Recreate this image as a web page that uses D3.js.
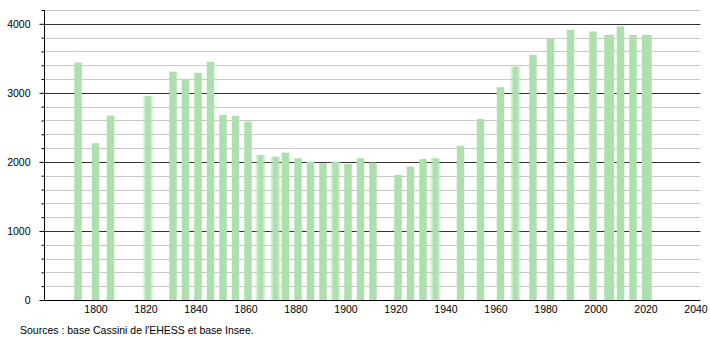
<!DOCTYPE html>
<html>
<head>
<meta charset="utf-8">
<script src="https://cdn.jsdelivr.net/npm/d3@7"></script>
<style>
  body { margin: 0; background: #fff; }
  text { font-family: "Liberation Sans", Arial, sans-serif; }
</style>
</head>
<body>
<div id="chart"></div>
<script>
// census years and population
const years = [1793, 1800, 1806, 1821, 1831, 1836, 1841, 1846, 1851, 1856, 1861, 1866, 1872, 1876,
    1881, 1886, 1891, 1896, 1901, 1906, 1911, 1921, 1926, 1931, 1936, 1946, 1954, 1962, 1968,
    1975, 1982, 1990, 1999, 2005, 2006, 2010, 2015, 2020, 2021];
const population = [3439, 2270, 2671, 2957, 3309, 3203, 3290, 3449, 2681, 2667, 2584, 2101, 2077, 2135,
    2053, 2004, 1981, 2004, 1971, 2053, 1990, 1812, 1932, 2043, 2053, 2232, 2623, 3082, 3381,
    3551, 3787, 3913, 3888, 3841, 3841, 3961, 3841, 3840, 3840];
// years drawn with blurred edges
const softYears = [1821, 1866, 1872, 1896, 1936, 1968];

const yMajor = [0, 1000, 2000, 3000, 4000];
const yMinor = [200, 400, 600, 800, 1200, 1400, 1600, 1800, 2200, 2400, 2600, 2800,
    3200, 3400, 3600, 3800, 4200];
const xTicks = [1800, 1820, 1840, 1860, 1880, 1900, 1920, 1940, 1960, 1980, 2000, 2020, 2040];
const sourceText = "Sources : base Cassini de l'EHESS et base Insee.";

const width = 710, height = 340;
const plotLeft = 44.5, plotRight = 700.5, plotTop = 10, plotBottom = 300;

const svg = d3.select("#chart").append("svg")
    .attr("width", width)
    .attr("height", height);

const x = d3.scaleLinear().domain([1780, 2042]).range([plotLeft + 1, plotRight]);
const y = d3.scaleLinear().domain([0, 4200]).range([plotBottom, plotTop]);

const data = years.map((yr, i) => ({ year: yr, pop: population[i], soft: softYears.includes(yr) }));

// gradient for the soft bars
const grad = svg.append("defs").append("linearGradient")
    .attr("id", "soft")
    .attr("x1", "0%").attr("x2", "100%");
grad.append("stop").attr("offset", "0%").attr("stop-color", "#ade0ad").attr("stop-opacity", 0);
grad.append("stop").attr("offset", "35%").attr("stop-color", "#ade0ad").attr("stop-opacity", 1);
grad.append("stop").attr("offset", "65%").attr("stop-color", "#ade0ad").attr("stop-opacity", 1);
grad.append("stop").attr("offset", "100%").attr("stop-color", "#ade0ad").attr("stop-opacity", 0);

// grid lines
svg.append("g")
    .selectAll("line")
    .data(yMinor)
    .join("line")
    .attr("x1", plotLeft).attr("x2", plotRight)
    .attr("y1", d => Math.round(y(d)) + 0.5).attr("y2", d => Math.round(y(d)) + 0.5)
    .attr("stroke", "#c8c8c8");

svg.append("g")
    .selectAll("line")
    .data(yMajor.slice(1))
    .join("line")
    .attr("x1", plotLeft).attr("x2", plotRight)
    .attr("y1", d => Math.round(y(d)) + 0.5).attr("y2", d => Math.round(y(d)) + 0.5)
    .attr("stroke", "#333");

// bars
svg.append("g")
    .selectAll("rect")
    .data(data)
    .join("rect")
    .attr("x", d => x(d.year) - (d.soft ? 6 : 3.75))
    .attr("width", d => d.soft ? 12 : 7.5)
    .attr("y", d => y(d.pop))
    .attr("height", d => y(0) - y(d.pop))
    .attr("fill", d => d.soft ? "url(#soft)" : "#ade0ad");

// y axis
const yAxis = svg.append("g")
    .attr("transform", `translate(${plotLeft},0)`)
    .call(d3.axisLeft(y).tickValues(yMajor).tickSize(5).tickSizeOuter(0).tickPadding(9)
        .tickFormat(d3.format("d")));
yAxis.select(".domain").attr("d", `M0,${plotTop}V${plotBottom}`);

svg.append("g")
    .attr("transform", `translate(${plotLeft},0)`)
    .call(d3.axisLeft(y).tickValues(yMinor).tickSize(3).tickFormat(""))
    .select(".domain").remove();

// x axis
const xAxis = svg.append("g")
    .attr("transform", `translate(0,${plotBottom})`)
    .call(d3.axisBottom(x).tickValues(xTicks).tickSize(0).tickSizeOuter(0).tickPadding(6)
        .tickFormat(d3.format("d")));
xAxis.select(".domain").attr("d", `M${plotLeft},0.5H${plotRight}`);

svg.selectAll(".tick text")
    .attr("font-family", "Liberation Sans, Arial, sans-serif")
    .attr("font-size", 10.5)
    .attr("fill", "#000");
svg.selectAll(".tick line").attr("stroke", "#000");
svg.selectAll(".domain").attr("stroke", "#000");

svg.append("text")
    .attr("x", 20)
    .attr("y", 334)
    .attr("font-size", 10.5)
    .attr("fill", "#000")
    .text(sourceText);
</script>
</body>
</html>
